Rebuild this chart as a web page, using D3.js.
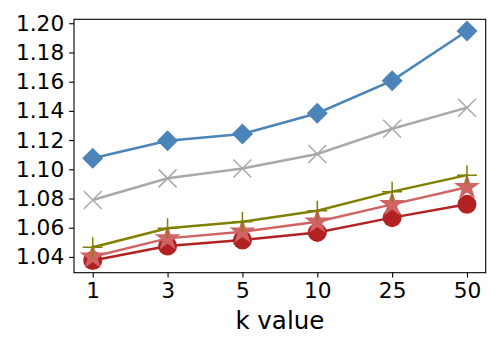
<!DOCTYPE html>
<html>
<head>
<meta charset="utf-8">
<script src="https://cdn.jsdelivr.net/npm/d3@7"></script>
<style>
  body { margin: 0; background: #fff; }
  text { font-family: "DejaVu Sans", sans-serif; fill: #000; }
</style>
</head>
<body>
<div id="chart"></div>
<script>
const kValues = ['1', '3', '5', '10', '25', '50'];
const blueVals  = [1.1075, 1.1195, 1.1242, 1.1384, 1.1607, 1.1947];
const grayVals  = [1.0790, 1.0938, 1.1005, 1.1105, 1.1278, 1.1422];
const oliveVals = [1.0466, 1.0596, 1.0641, 1.0716, 1.0847, 1.0960];
const pinkVals  = [1.0401, 1.0527, 1.0573, 1.0641, 1.0760, 1.0877];
const redVals   = [1.0375, 1.0475, 1.0516, 1.0568, 1.0669, 1.0760];
const yTicks = [1.04, 1.06, 1.08, 1.10, 1.12, 1.14, 1.16, 1.18, 1.20];

const margin = { top: 19.3, right: 14.3, bottom: 77.3, left: 74 };
const W = 500, H = 350;
const width = W - margin.left - margin.right,
      height = H - margin.top - margin.bottom;

const svg = d3.select('#chart').append('svg')
  .attr('width', W)
  .attr('height', H);

const g = svg.append('g')
  .attr('transform', 'translate(' + margin.left + ',' + margin.top + ')');

const xScale = d3.scaleLinear().domain([-0.25, 5.25]).range([0, width]);
const yScale = d3.scaleLinear().domain([1.0292, 1.2027]).range([height, 0]);

const series = [
  { vals: blueVals,  color: '#4a84b8', marker: 'diamond', lw: 2.5 },
  { vals: grayVals,  color: '#a9a9a9', marker: 'x',       lw: 2.5 },
  { vals: redVals,   color: '#b22222', marker: 'circle',  lw: 2.5 },
  { vals: pinkVals,  color: '#d06363', marker: 'star',    lw: 2.5 },
  { vals: oliveVals, color: '#808000', marker: 'plus',    lw: 2.5 }
];

const line = d3.line()
  .x((d, i) => xScale(i))
  .y(d => yScale(d));

series.forEach(s => {
  g.append('path')
    .datum(s.vals)
    .attr('fill', 'none')
    .attr('stroke', s.color)
    .attr('stroke-width', s.lw)
    .attr('d', line);

  const pts = g.append('g').selectAll('g').data(s.vals).enter().append('g')
    .attr('transform', (d, i) => 'translate(' + xScale(i) + ',' + yScale(d) + ')');

  if (s.marker === 'diamond') {
    pts.append('path').attr('d', 'M0,-10.5L10.5,0L0,10.5L-10.5,0Z')
      .attr('fill', s.color);
  } else if (s.marker === 'circle') {
    pts.append('circle').attr('r', 9.5).attr('fill', s.color);
  } else if (s.marker === 'star') {
    pts.append('path').attr('d', d3.symbol(d3.symbolStar, 210)())
      .attr('fill', s.color);
  } else if (s.marker === 'x') {
    pts.append('path').attr('d', 'M-9,-9L9,9M-9,9L9,-9')
      .attr('stroke', s.color).attr('stroke-width', 1.5);
  } else if (s.marker === 'plus') {
    pts.append('path').attr('d', 'M-10,0L10,0M0,-10L0,10')
      .attr('stroke', s.color).attr('stroke-width', 1.5);
  }
});

// axes
const xAxis = d3.axisBottom(xScale)
  .tickValues(d3.range(kValues.length))
  .tickFormat(i => kValues[i])
  .tickSize(4.9).tickPadding(4.9);
const yAxis = d3.axisLeft(yScale)
  .tickValues(yTicks)
  .tickFormat(d3.format('.2f'))
  .tickSize(4.9).tickPadding(4.9);

const gx = g.append('g')
  .attr('transform', 'translate(0,' + height + ')')
  .call(xAxis);
const gy = g.append('g').call(yAxis);

[gx, gy].forEach(a => {
  a.select('.domain').remove();
  a.selectAll('.tick line').attr('stroke', '#000').attr('stroke-width', 1.1);
  a.selectAll('.tick text')
    .style('font-family', '"DejaVu Sans", sans-serif')
    .style('font-size', '21.7px')
    .attr('fill', '#000');
});

g.append('rect')
  .attr('width', width)
  .attr('height', height)
  .attr('fill', 'none')
  .attr('stroke', '#000')
  .attr('stroke-width', 1.1);

svg.append('text')
  .attr('x', margin.left + width / 2)
  .attr('y', 329)
  .attr('text-anchor', 'middle')
  .style('font-size', '24.5px')
  .text('k value');
</script>
</body>
</html>
